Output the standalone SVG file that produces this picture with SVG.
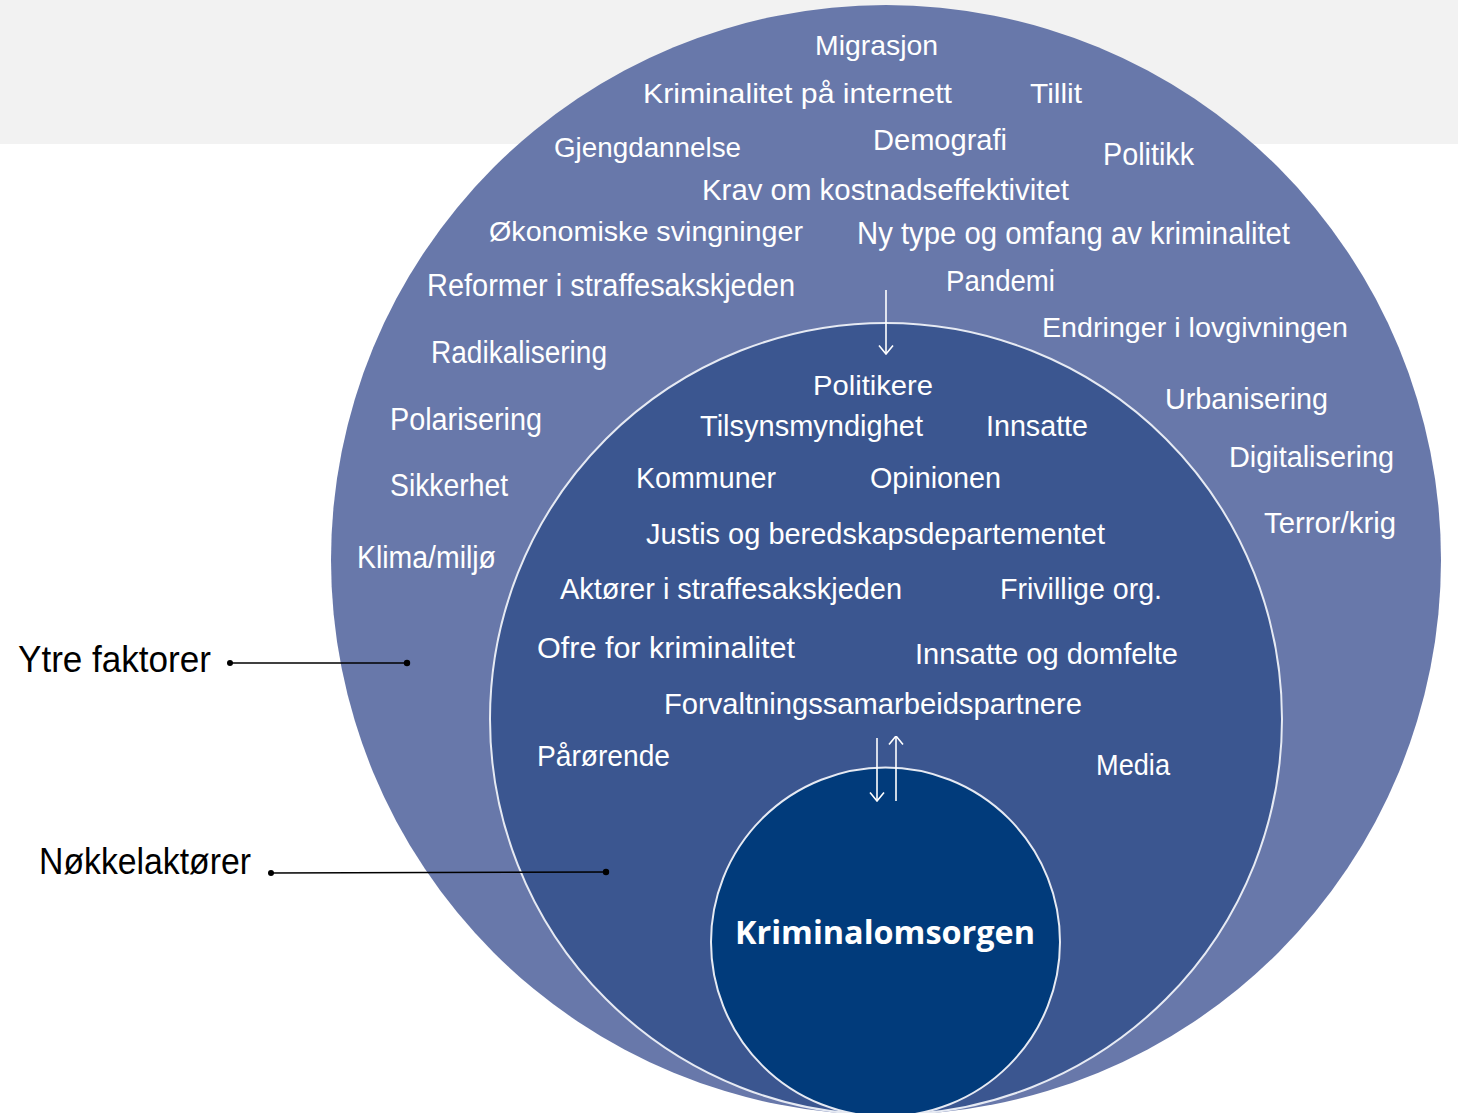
<svg xmlns="http://www.w3.org/2000/svg" width="1458" height="1113" viewBox="0 0 1458 1113">
<defs>
<style>
.t{font-family:"Liberation Sans Narrow","Liberation Sans",Arial,sans-serif;fill:#ffffff;}
.lbl{font-family:"Liberation Sans Narrow","Liberation Sans",Arial,sans-serif;fill:#000000;font-size:36px;}
.core{font-family:"Open Sans","Liberation Sans",Arial,sans-serif;font-weight:bold;fill:#ffffff;font-size:32px;}
.arr{stroke:#ffffff;stroke-width:1.6;fill:none;}
.ptr{stroke:#000000;stroke-width:1.6;fill:none;}
</style>
<marker id="head" viewBox="0 0 10 16" refX="9.5" refY="8" markerWidth="10" markerHeight="16" markerUnits="userSpaceOnUse" orient="auto">
<path d="M1,1 L9.5,8 L1,15" stroke="#ffffff" stroke-width="1.6" fill="none"/>
</marker>
</defs>
<rect x="0" y="0" width="1458" height="1113" fill="#ffffff"/>
<rect x="0" y="0" width="1458" height="144" fill="#f2f2f2"/>

<g id="ytre-faktorer">
<circle cx="886" cy="560" r="555" fill="#6878aa"/>
<text class="t" font-size="28" x="815" y="55" textLength="123" lengthAdjust="spacingAndGlyphs">Migrasjon</text>
<text class="t" font-size="28" x="643" y="103" textLength="309" lengthAdjust="spacingAndGlyphs">Kriminalitet på internett</text>
<text class="t" font-size="28" x="1030" y="103" textLength="52" lengthAdjust="spacingAndGlyphs">Tillit</text>
<text class="t" font-size="28" x="554" y="157" textLength="187" lengthAdjust="spacingAndGlyphs">Gjengdannelse</text>
<text class="t" font-size="29" x="873" y="150" textLength="134" lengthAdjust="spacingAndGlyphs">Demografi</text>
<text class="t" font-size="31" x="1103" y="165" textLength="91" lengthAdjust="spacingAndGlyphs">Politikk</text>
<text class="t" font-size="30" x="702" y="200" textLength="367" lengthAdjust="spacingAndGlyphs">Krav om kostnadseffektivitet</text>
<text class="t" font-size="28" x="489" y="241" textLength="314" lengthAdjust="spacingAndGlyphs">Økonomiske svingninger</text>
<text class="t" font-size="31" x="857" y="244" textLength="433" lengthAdjust="spacingAndGlyphs">Ny type og omfang av kriminalitet</text>
<text class="t" font-size="31" x="427" y="296" textLength="368" lengthAdjust="spacingAndGlyphs">Reformer i straffesakskjeden</text>
<text class="t" font-size="30" x="946" y="291" textLength="109" lengthAdjust="spacingAndGlyphs">Pandemi</text>
<text class="t" font-size="28" x="1042" y="337" textLength="306" lengthAdjust="spacingAndGlyphs">Endringer i lovgivningen</text>
<text class="t" font-size="31" x="431" y="363" textLength="176" lengthAdjust="spacingAndGlyphs">Radikalisering</text>
<text class="t" font-size="29" x="1165" y="409" textLength="163" lengthAdjust="spacingAndGlyphs">Urbanisering</text>
<text class="t" font-size="31" x="390" y="430" textLength="152" lengthAdjust="spacingAndGlyphs">Polarisering</text>
<text class="t" font-size="30" x="1229" y="467" textLength="165" lengthAdjust="spacingAndGlyphs">Digitalisering</text>
<text class="t" font-size="32" x="390" y="496" textLength="118" lengthAdjust="spacingAndGlyphs">Sikkerhet</text>
<text class="t" font-size="30" x="1264" y="533" textLength="132" lengthAdjust="spacingAndGlyphs">Terror/krig</text>
<text class="t" font-size="31" x="357" y="568" textLength="139" lengthAdjust="spacingAndGlyphs">Klima/miljø</text>
</g>

<g id="nokkelaktorer">
<circle cx="886" cy="719" r="396" fill="#3b5690" stroke="#e6eaf3" stroke-width="2"/>
<text class="t" font-size="28" x="813" y="395" textLength="120" lengthAdjust="spacingAndGlyphs">Politikere</text>
<text class="t" font-size="29" x="700" y="436" textLength="223" lengthAdjust="spacingAndGlyphs">Tilsynsmyndighet</text>
<text class="t" font-size="29" x="986" y="436" textLength="102" lengthAdjust="spacingAndGlyphs">Innsatte</text>
<text class="t" font-size="29" x="636" y="488" textLength="140" lengthAdjust="spacingAndGlyphs">Kommuner</text>
<text class="t" font-size="29" x="870" y="488" textLength="131" lengthAdjust="spacingAndGlyphs">Opinionen</text>
<text class="t" font-size="29" x="646" y="544" textLength="459" lengthAdjust="spacingAndGlyphs">Justis og beredskapsdepartementet</text>
<text class="t" font-size="29" x="560" y="599" textLength="342" lengthAdjust="spacingAndGlyphs">Aktører i straffesakskjeden</text>
<text class="t" font-size="29" x="1000" y="599" textLength="162" lengthAdjust="spacingAndGlyphs">Frivillige org.</text>
<text class="t" font-size="29" x="537" y="658" textLength="258" lengthAdjust="spacingAndGlyphs">Ofre for kriminalitet</text>
<text class="t" font-size="29" x="915" y="664" textLength="263" lengthAdjust="spacingAndGlyphs">Innsatte og domfelte</text>
<text class="t" font-size="29" x="664" y="714" textLength="418" lengthAdjust="spacingAndGlyphs">Forvaltningssamarbeidspartnere</text>
<text class="t" font-size="30" x="537" y="766" textLength="133" lengthAdjust="spacingAndGlyphs">Pårørende</text>
<text class="t" font-size="30" x="1096" y="775" textLength="74" lengthAdjust="spacingAndGlyphs">Media</text>
</g>

<g id="kriminalomsorgen">
<circle cx="885.5" cy="942" r="174.5" fill="#013b7b" stroke="#e6eaf3" stroke-width="2"/>
<text class="core" x="735" y="944" textLength="300" lengthAdjust="spacingAndGlyphs">Kriminalomsorgen</text>
</g>

<g id="legend-ytre">
<text class="lbl" x="18" y="672" textLength="193" lengthAdjust="spacingAndGlyphs">Ytre faktorer</text>
</g>
<g id="legend-nokkel">
<text class="lbl" font-size="35" x="39" y="874" textLength="212" lengthAdjust="spacingAndGlyphs">Nøkkelaktører</text>
</g>

<g id="connectors">
<line class="arr" x1="886" y1="290" x2="886" y2="354" marker-end="url(#head)"/>
<line class="arr" x1="877" y1="738" x2="877" y2="801" marker-end="url(#head)"/>
<line class="arr" x1="896" y1="801" x2="896" y2="736" marker-end="url(#head)"/>
<line class="ptr" x1="230" y1="663" x2="407" y2="663"/>
<circle cx="230" cy="663" r="3" fill="#000000"/>
<circle cx="407" cy="663" r="3.2" fill="#000000"/>
<line class="ptr" x1="271" y1="873" x2="606" y2="872"/>
<circle cx="271" cy="873" r="3" fill="#000000"/>
<circle cx="606" cy="872" r="3.2" fill="#000000"/>
</g>
</svg>
